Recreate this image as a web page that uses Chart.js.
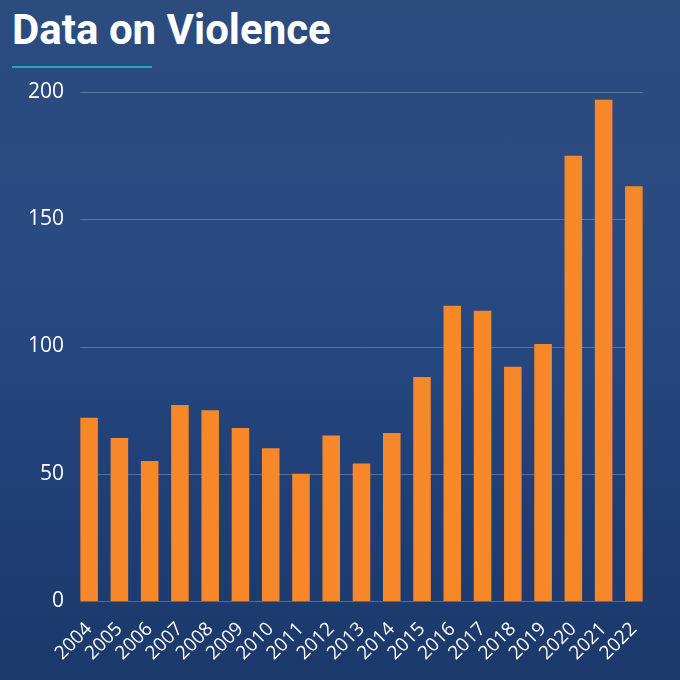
<!DOCTYPE html>
<html lang="en">
<head>
  <meta charset="utf-8"/>
  <title>Data on Violence</title>
  <script src="https://cdn.jsdelivr.net/npm/chart.js"></script>
  <style>
    html, body { margin: 0; padding: 0; }
    body { width: 680px; height: 680px; overflow: hidden; }
    .wrap {
      position: relative; width: 680px; height: 680px;
      background: linear-gradient(180deg, #2c4c7e 0%, #2a4a82 35%, #25457e 55%, #1f3e74 75%, #1b396a 100%);
    }
    h1 {
      position: absolute; left: 12px; top: 5px; margin: 0;
      font-family: Roboto, sans-serif; font-weight: 700; font-size: 42px;
      color: #ffffff;
    }
    .rule {
      position: absolute; left: 12px; top: 66px; width: 140px; height: 2px;
      background: #1fa9b9;
    }
    canvas { position: absolute; left: 0; top: 0; }
  </style>
</head>
<body>
  <div class="wrap">
    <h1>Data on Violence</h1>
    <div class="rule"></div>
    <canvas id="chart" width="680" height="680"></canvas>
  </div>

  <script>
    // ── DATA ─────────────────────────────────────────
    const years = ['2004', '2005', '2006', '2007', '2008', '2009', '2010', '2011', '2012', '2013',
                   '2014', '2015', '2016', '2017', '2018', '2019', '2020', '2021', '2022'];
    const counts = [72, 64, 55, 77, 75, 68, 60, 50, 65, 54, 66, 88, 116, 114, 92, 101, 175, 197, 163];
    const yTicks = [0, 50, 100, 150, 200];
    // ─────────────────────────────────────────────────

    // horizontal grid lines only as wide as the bars
    const gridPlugin = {
      id: 'barGrid',
      beforeDatasetsDraw(chart) {
        const meta = chart.getDatasetMeta(0);
        const first = meta.data[0], last = meta.data[meta.data.length - 1];
        const x0 = first.x - first.width / 2, x1 = last.x + last.width / 2;
        const y = chart.scales.y, ctx = chart.ctx;
        ctx.save();
        ctx.strokeStyle = 'rgba(160,182,215,0.4)';
        ctx.lineWidth = 1;
        y.ticks.forEach(t => {
          const py = Math.round(y.getPixelForValue(t.value)) + 0.5;
          ctx.beginPath();
          ctx.moveTo(x0, py);
          ctx.lineTo(x1, py);
          ctx.stroke();
        });
        ctx.restore();
      }
    };

    new Chart(document.getElementById('chart'), {
      type: 'bar',
      data: {
        labels: years,
        datasets: [{
          data: counts,
          backgroundColor: '#f7882a',
          borderWidth: 0,
          categoryPercentage: 1,
          barPercentage: 0.58
        }]
      },
      options: {
        responsive: false,
        animation: false,
        layout: { padding: { top: 92, right: 31, left: 0, bottom: 0 } },
        plugins: { legend: { display: false }, tooltip: { enabled: false } },
        scales: {
          x: {
            grid: { display: false },
            border: { display: false },
            afterFit(s) { s.height = 79; },
            ticks: {
              color: '#ffffff',
              minRotation: 45, maxRotation: 45,
              autoSkip: false,
              padding: 9,
              font: { family: 'Open Sans', size: 19 }
            }
          },
          y: {
            min: 0, max: 200,
            afterFit(s) { s.width = 74; },
            afterBuildTicks(s) { s.ticks = yTicks.map(v => ({ value: v })); },
            grid: { display: false },
            border: { display: false },
            ticks: {
              color: '#ffffff',
              padding: 2,
              font: { family: 'Open Sans', size: 21 }
            }
          }
        }
      },
      plugins: [gridPlugin]
    });
  </script>
</body>
</html>
